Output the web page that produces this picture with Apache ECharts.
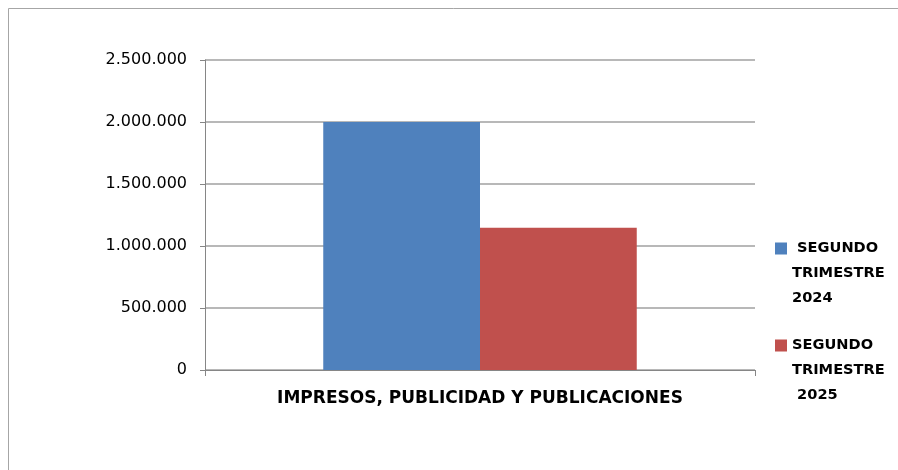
<!DOCTYPE html>
<html>
<head>
<meta charset="utf-8">
<script src="https://cdn.jsdelivr.net/npm/echarts@6/dist/echarts.min.js"></script>
<style>
  html, body { margin: 0; padding: 0; background: #fff; }
  #chart { width: 898px; height: 470px; }
</style>
</head>
<body>
<div id="chart"></div>
<script>
  // datos del gráfico
  var categorias = ['IMPRESOS, PUBLICIDAD Y PUBLICACIONES'];
  var nombresSeries = [' SEGUNDO\nTRIMESTRE\n2024', 'SEGUNDO\nTRIMESTRE\n 2025'];
  var valores2024 = [2000000];
  var valores2025 = [1147000];
  var ticksY = [0, 500000, 1000000, 1500000, 2000000, 2500000];

  var fuente = 'DejaVu Sans';
  // cuadrado arriba, el resto del icono vacío para alinear con la primera línea
  var iconoLeyenda = 'path://M0,0H12V12H0Z M0,62H0.01V62.01H0Z';

  function formatoMiles(v) {
    return String(v).replace(/\B(?=(\d{3})+(?!\d))/g, '.');
  }

  var chart = echarts.init(document.getElementById('chart'));
  chart.setOption({
    animation: false,
    graphic: [{
      type: 'rect',
      shape: { x: 8.5, y: 8.5, width: 920, height: 500 },
      style: { fill: 'none', stroke: '#a6a6a6', lineWidth: 1 }
    }],
    grid: { left: 205, right: 143, top: 60, bottom: 100 },
    legend: {
      orient: 'vertical',
      left: 775,
      top: 236,
      padding: 0,
      itemWidth: 12,
      itemHeight: 62,
      itemGap: 22,
      icon: iconoLeyenda,
      textStyle: {
        fontFamily: fuente,
        fontWeight: 'bold',
        fontSize: 14.6,
        color: '#000',
        lineHeight: 25
      },
      data: nombresSeries
    },
    xAxis: {
      type: 'category',
      data: categorias,
      axisLine: { lineStyle: { color: '#868686', width: 1 } },
      axisTick: { show: true, length: 6, lineStyle: { color: '#868686' } },
      axisLabel: {
        margin: 20,
        fontFamily: fuente,
        fontWeight: 'bold',
        fontSize: 17,
        color: '#000'
      }
    },
    yAxis: {
      type: 'value',
      min: ticksY[0],
      max: ticksY[ticksY.length - 1],
      interval: 500000,
      axisLine: { show: true, lineStyle: { color: '#868686' } },
      axisTick: { show: true, length: 5, lineStyle: { color: '#868686' } },
      splitLine: { lineStyle: { color: '#a0a0a0', width: 1.5 } },
      axisLabel: {
        margin: 18,
        fontFamily: fuente,
        fontSize: 16,
        color: '#000',
        formatter: function (v) { return formatoMiles(v); }
      }
    },
    series: [{
      name: nombresSeries[0],
      type: 'bar',
      data: valores2024,
      barGap: '0%',
      barCategoryGap: '43%',
      itemStyle: { color: '#4f81bd' }
    }, {
      name: nombresSeries[1],
      type: 'bar',
      data: valores2025,
      itemStyle: { color: '#c0504d' }
    }]
  });
</script>
</body>
</html>
